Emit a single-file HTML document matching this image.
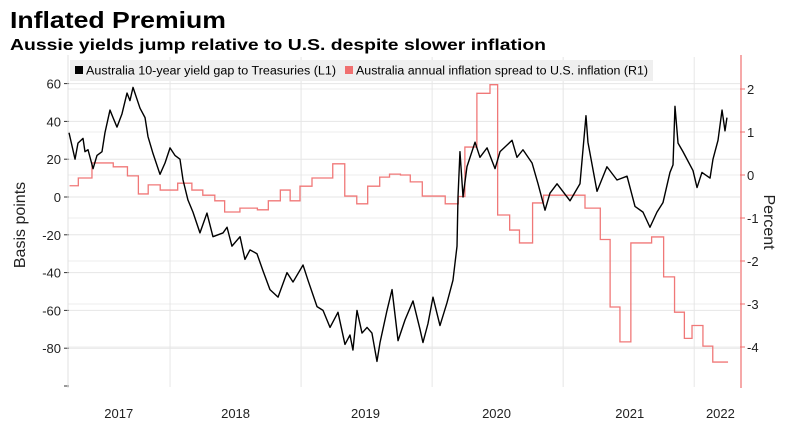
<!DOCTYPE html>
<html><head><meta charset="utf-8"><style>
html,body{margin:0;padding:0;background:#fff;}
svg{display:block;font-family:"Liberation Sans",sans-serif;}
</style></head><body>
<svg id="chart" width="790" height="424">
<text x="10" y="28" font-size="23" font-weight="bold" textLength="216" lengthAdjust="spacingAndGlyphs">Inflated Premium</text>
<text x="10" y="50" font-size="16" font-weight="bold" textLength="536" lengthAdjust="spacingAndGlyphs">Aussie yields jump relative to U.S. despite slower inflation</text>
<g id="grid"></g>
<g id="axes"></g>
<rect x="70" y="60" width="583" height="21" fill="#efefef"/>
<g><rect x="75" y="66" width="8" height="8" fill="#000"/><text x="86" y="74.5" font-size="11.5" textLength="250" lengthAdjust="spacingAndGlyphs">Australia 10-year yield gap to Treasuries (L1)</text></g>
<g><rect x="345" y="66" width="8" height="8" fill="#f07070"/><text x="356" y="74.5" font-size="11.5" textLength="292" lengthAdjust="spacingAndGlyphs">Australia annual inflation spread to U.S. inflation (R1)</text></g>
<g id="series"></g>
<text transform="translate(25,225) rotate(-90)" text-anchor="middle" font-size="16" fill="#222">Basis points</text>
<text transform="translate(764,222) rotate(90)" text-anchor="middle" font-size="16" fill="#222">Percent</text>
</svg>
<script>
// month index: 0 = Jan 2017
const yieldMonths=[2.75,3.30,3.57,4.03,4.21,4.49,4.95,5.31,5.77,6.04,6.50,6.78,7.14,7.60,8.06,8.33,8.61,9.25,9.71,9.98,10.44,11.08,11.54,12.00,12.45,12.91,13.19,13.64,14.10,14.74,15.38,15.93,16.85,17.22,17.67,18.41,18.86,19.32,19.96,20.51,21.15,21.89,22.71,23.26,24.18,24.63,25.46,26.01,26.65,27.38,28.02,28.48,28.75,29.12,29.58,30.04,30.49,30.95,31.23,31.87,32.33,32.88,33.52,34.25,34.89,35.16,35.62,36.08,36.72,37.36,37.91,38.28,38.37,38.55,38.83,39.19,39.93,40.38,41.03,41.76,42.22,43.32,43.77,44.32,45.15,45.70,46.34,46.79,47.44,48.63,49.54,50.09,50.27,51.10,52.01,52.93,53.85,54.58,55.31,55.95,56.59,57.14,57.78,58.06,58.24,58.52,58.97,59.89,60.26,60.71,61.45,61.72,62.18,62.55,62.82,63.00];
const yieldValues=[34,20,28.5,31,24,25,15,22,24,34,46,42,37,44,55,51,58,47,42,32,23,12,18,26,22,20,9,-1.6,-8,-19,-8.5,-21,-19,-16,-26,-21,-33,-28,-30,-39,-49,-53,-40,-45,-36,-44,-58,-60,-69,-61,-78,-73,-81,-60,-72,-69,-72,-87,-77,-60,-49,-76,-65,-55,-70,-77,-67,-53,-68,-56,-44,-26,0,24,0,16,29,21,26,15,24,30,21,25,18,7,-7,2,7,-2,7,43,29,3,16,9,11,-5,-8,-16,-8,-3,13,17,48,28.5,24,14,5,13,10,20,30,46,35,42];
const inflMonths=[2.8,3.6,4.85,6.8,8.1,9.1,10.0,11.1,12.7,14.0,15.0,16.1,17.0,18.4,20.0,21.0,22.1,23.0,23.9,25.0,26.9,28.0,29.1,30.1,31.2,32.1,33.1,34.0,35.1,37.2,38.4,39.0,40.1,41.3,42.0,43.1,44.0,45.2,46.2,50.0,51.4,52.3,53.2,54.2,56.1,57.2,58.2,59.1,59.8,60.8,61.7];
const inflValues=[-0.25,-0.07,0.28,0.19,-0.02,-0.44,-0.23,-0.35,-0.19,-0.35,-0.47,-0.6,-0.86,-0.77,-0.81,-0.6,-0.35,-0.6,-0.26,-0.07,0.26,-0.49,-0.67,-0.26,-0.05,0.02,0,-0.16,-0.49,-0.67,-0.5,0.65,1.9,2.1,-0.93,-1.28,-1.58,-0.65,-0.47,-0.77,-1.5,-3.07,-3.88,-1.58,-1.44,-2.37,-3.19,-3.8,-3.5,-3.98,-4.35];
const inflEnd=63.1;
const leftTicks=[60,40,20,0,-20,-40,-60,-80];
const rightTicks=[2,1,0,-1,-2,-3,-4];
const yearLabels=["2017","2018","2019","2020","2021","2022"];
const yearMid=[7.3,18,29.9,41.9,54.1,62.4];
const gridMonths=[12,24,36,48,60];

const NS="http://www.w3.org/2000/svg";
const xS=m=>39+m*10.92;
const yL=v=>197-v*1.89;
const yR=p=>175-p*43;
function mk(tag,attrs,parent){const e=document.createElementNS(NS,tag);for(const k in attrs)e.setAttribute(k,attrs[k]);parent.appendChild(e);return e;}
const grid=document.getElementById('grid'),axes=document.getElementById('axes'),series=document.getElementById('series');
leftTicks.forEach(v=>{
  const l=mk('line',{x1:68,x2:740,y1:yL(v),y2:yL(v),stroke:'#e6e6e6','stroke-width':1},grid);
  
  
  const t=mk('line',{x1:64,x2:69,y1:yL(v),y2:yL(v),stroke:'#333'},axes);
  
  
  const tx=mk('text',{x:61,y:yL(v)+5,'text-anchor':'end','font-size':13,fill:'#222'},axes);
  tx.textContent=v;
  
  
});
{const t=mk('line',{x1:64,x2:69,y1:386,y2:386,stroke:'#333'},axes);

}
rightTicks.forEach(p=>{
  const l=mk('line',{x1:68,x2:740,y1:yR(p),y2:yR(p),stroke:'#ececec','stroke-width':1},grid);
  
  
  const t=mk('line',{x1:740,x2:745,y1:yR(p),y2:yR(p),stroke:'#f07070'},axes);
  
  
  const tx=mk('text',{x:747,y:yR(p)+5,'font-size':13,fill:'#222'},axes);
  tx.textContent=p;
  
  
});
gridMonths.forEach(m=>{
  const l=mk('line',{x1:xS(m),x2:xS(m),y1:57,y2:387,stroke:'#e6e6e6'},grid);
  
  
});
{const a=mk('line',{x1:741,x2:741,y1:55,y2:388,stroke:'#f07070','stroke-width':1.2},axes);


const b=mk('line',{x1:68,x2:68,y1:55,y2:388,stroke:'#e0e0e0'},axes);

}
yearLabels.forEach((s,i)=>{
  const t=mk('text',{x:xS(yearMid[i]),y:418,'text-anchor':'middle','font-size':13,fill:'#222'},axes);
  t.textContent=s;
  
  
});
let d='';
inflMonths.forEach((m,i)=>{
  const x=xS(m),y=yR(inflValues[i]);
  d+=(i===0?'M':'L')+x+','+y;
  const nx=i<inflMonths.length-1?xS(inflMonths[i+1]):xS(inflEnd);
  d+='L'+nx+','+y;
});
const red=mk('path',{d:d,fill:'none',stroke:'#f07878','stroke-width':1.3},series);


let d2='';
yieldMonths.forEach((m,i)=>{d2+=(i===0?'M':'L')+xS(m)+','+yL(yieldValues[i]);});
const blk=mk('path',{d:d2,fill:'none',stroke:'#000','stroke-width':1.4,'stroke-linejoin':'round'},series);


</script>
</body></html>
